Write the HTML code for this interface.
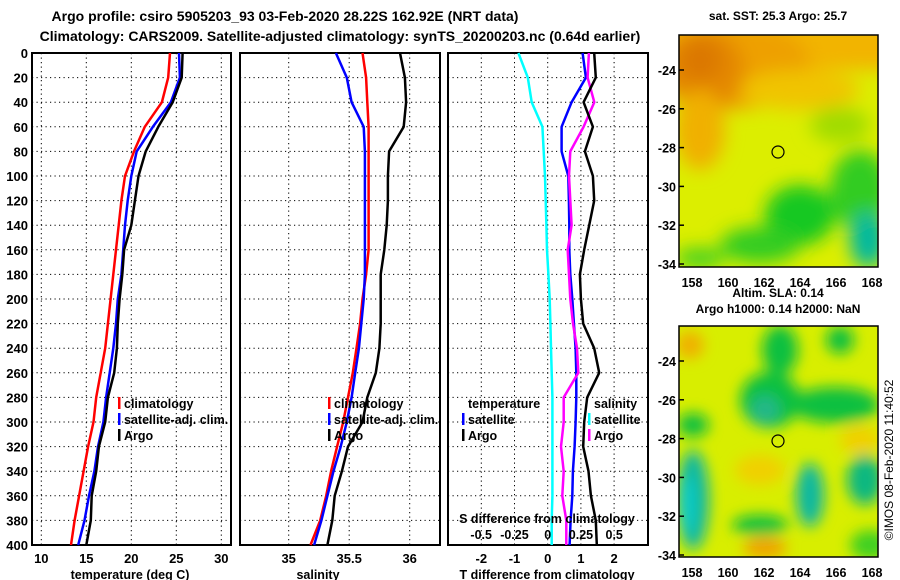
<!DOCTYPE html>
<html><head><meta charset="utf-8"><style>
html,body{margin:0;padding:0;background:#fff;}
svg{display:block;font-family:"Liberation Sans",sans-serif;font-weight:bold;}
</style></head><body>
<svg id="c" width="900" height="580" viewBox="0 0 900 580">
<defs>
<filter id="bl" x="-50%" y="-50%" width="200%" height="200%"><feGaussianBlur stdDeviation="9"/></filter>
<filter id="bl2" x="-50%" y="-50%" width="200%" height="200%"><feGaussianBlur stdDeviation="7"/></filter>
<clipPath id="m1"><rect x="679" y="35" width="199" height="232"/></clipPath>
<clipPath id="m2"><rect x="679" y="326" width="199" height="231"/></clipPath>
</defs>
<text x="285" y="21" font-size="14" text-anchor="middle">Argo profile: csiro 5905203_93 03-Feb-2020 28.22S 162.92E (NRT data)</text>
<text x="340" y="41" font-size="14" text-anchor="middle">Climatology: CARS2009. Satellite-adjusted climatology: synTS_20200203.nc (0.64d earlier)</text>

<g id="maps">
<text x="778" y="20" font-size="12" text-anchor="middle">sat. SST: 25.3 Argo: 25.7</text>
<g clip-path="url(#m1)">
<rect x="679" y="35" width="199" height="232" fill="#dcee00"/>
<g filter="url(#bl)">
<rect x="660" y="20" width="240" height="50" fill="#f2b400"/>
<ellipse cx="730" cy="65" rx="80" ry="45" fill="#eea000"/>
<ellipse cx="705" cy="70" rx="40" ry="40" fill="#e48800"/>
<ellipse cx="700" cy="60" rx="22" ry="22" fill="#dc7800"/>
<ellipse cx="700" cy="130" rx="25" ry="40" fill="#f0b000"/>
<ellipse cx="800" cy="90" rx="60" ry="20" fill="#f0c400"/>
<ellipse cx="840" cy="125" rx="30" ry="18" fill="#a0dc00"/>
<ellipse cx="860" cy="190" rx="30" ry="40" fill="#30cc20"/>
<ellipse cx="800" cy="215" rx="35" ry="30" fill="#18c820"/>
<ellipse cx="760" cy="245" rx="40" ry="18" fill="#30cc20"/>
<ellipse cx="700" cy="258" rx="25" ry="10" fill="#40d020"/>
<ellipse cx="868" cy="240" rx="18" ry="28" fill="#00b8a0"/>
</g>
<circle cx="778" cy="152" r="6" fill="none" stroke="#000" stroke-width="1.2"/>
</g>
<rect x="679" y="35" width="199" height="232" fill="none" stroke="#000" stroke-width="1.5"/>
<text x="778" y="297" font-size="12" text-anchor="middle">Altim. SLA: 0.14</text>
<text x="778" y="313" font-size="12" text-anchor="middle">Argo h1000: 0.14 h2000: NaN</text>
<g clip-path="url(#m2)">
<rect x="679" y="326" width="199" height="231" fill="#d8ee00"/>
<g filter="url(#bl2)">
<ellipse cx="690" cy="345" rx="14" ry="14" fill="#f0b000"/>
<ellipse cx="780" cy="350" rx="18" ry="25" fill="#10c040"/>
<ellipse cx="840" cy="340" rx="14" ry="14" fill="#10c040"/>
<ellipse cx="770" cy="400" rx="30" ry="28" fill="#10c040"/>
<ellipse cx="835" cy="405" rx="45" ry="18" fill="#10c040"/>
<ellipse cx="765" cy="410" rx="15" ry="15" fill="#20b888"/>
<ellipse cx="693" cy="425" rx="16" ry="12" fill="#10c040"/>
<ellipse cx="693" cy="500" rx="16" ry="50" fill="#10b8a0"/>
<ellipse cx="688" cy="505" rx="6" ry="30" fill="#10d0d0"/>
<ellipse cx="760" cy="525" rx="28" ry="10" fill="#10c040"/>
<ellipse cx="810" cy="495" rx="14" ry="32" fill="#10b8a0"/>
<ellipse cx="865" cy="480" rx="18" ry="25" fill="#10b880"/>
<ellipse cx="760" cy="470" rx="25" ry="15" fill="#f0d000"/>
<ellipse cx="765" cy="548" rx="22" ry="10" fill="#f0a000"/>
<ellipse cx="860" cy="440" rx="20" ry="14" fill="#f0d000"/>
<ellipse cx="870" cy="545" rx="20" ry="15" fill="#40d020"/>
</g>
<circle cx="778" cy="441" r="6" fill="none" stroke="#000" stroke-width="1.2"/>
</g>
<rect x="679" y="326" width="199" height="231" fill="none" stroke="#000" stroke-width="1.5"/>
<text transform="translate(893,460) rotate(-90)" font-size="12" font-weight="normal" text-anchor="middle">©IMOS 08-Feb-2020 11:40:52</text>
</g>
<g id="plots"></g>
</svg>
<script>
const depths=[0,20,40,60,80,100,120,140,160,180,200,220,240,260,280,300,320,340,360,380,400];
const tClim=[24.3,24.1,23.4,21.5,20.3,19.3,18.9,18.6,18.3,18.0,17.7,17.4,17.1,16.6,16.1,15.8,15.2,14.7,14.2,13.7,13.3];
const tSat=[25.3,25.4,24.4,22.4,20.6,20.0,19.6,19.3,19.1,18.9,18.5,18.3,18.0,17.6,17.2,16.9,16.3,15.9,15.3,14.8,14.1];
const tArgo=[25.7,25.6,24.6,23.0,21.6,20.8,20.4,20.0,19.2,19.0,18.7,18.5,18.4,18.1,17.4,17.1,16.4,16.1,15.6,15.5,15.0];
const sClim=[35.61,35.64,35.65,35.66,35.66,35.66,35.66,35.66,35.66,35.64,35.61,35.59,35.56,35.53,35.49,35.45,35.40,35.35,35.31,35.26,35.18];
const sSat=[35.39,35.48,35.52,35.62,35.63,35.63,35.63,35.63,35.63,35.63,35.62,35.60,35.58,35.55,35.52,35.48,35.43,35.37,35.32,35.27,35.21];
const sArgo=[35.92,35.96,35.97,35.95,35.83,35.82,35.82,35.81,35.79,35.76,35.76,35.76,35.75,35.72,35.65,35.61,35.49,35.44,35.38,35.36,35.32];
const dTsat=[1.05,1.15,0.72,0.42,0.42,0.62,0.64,0.65,0.65,0.68,0.74,0.79,0.84,0.86,0.86,0.84,0.81,0.76,0.74,0.69,0.66];
const dTargo=[1.40,1.45,1.08,1.36,1.12,1.36,1.40,1.25,1.10,0.97,1.00,1.07,1.40,1.55,1.19,1.10,1.07,1.23,1.30,1.45,1.48];
const dSsat=[-0.22,-0.15,-0.12,-0.04,-0.03,-0.02,-0.015,-0.01,-0.005,0.005,0.015,0.02,0.025,0.03,0.035,0.035,0.035,0.035,0.035,0.03,0.03];
const dSargo=[0.31,0.30,0.35,0.27,0.17,0.16,0.17,0.18,0.15,0.16,0.17,0.19,0.22,0.23,0.12,0.12,0.10,0.12,0.11,0.14,0.14];
const yTicks=[0,20,40,60,80,100,120,140,160,180,200,220,240,260,280,300,320,340,360,380,400];
const tTicks=[10,15,20,25,30];
const sTicks=[35,35.5,36];
const dtTicks=[-2,-1,0,1,2];
const dsTicks=[-0.5,-0.25,0,0.25,0.5];
const dsTickLabels=["-0.5","-0.25","0","0.25","0.5"];
const latTicks=[-24,-26,-28,-30,-32,-34];
const lonTicks=[158,160,162,164,166,168];

const NS='http://www.w3.org/2000/svg';
const G=document.getElementById('plots');
const Y0=53,Y1=545;
const yS=d=>Y0+(d/400)*(Y1-Y0);
function mk(tag,attrs,parent){const e=document.createElementNS(NS,tag);for(const k in attrs)e.setAttribute(k,attrs[k]);(parent||G).appendChild(e);return e;}
function txt(x,y,s,size,anchor){const e=mk('text',{x:x,y:y,'font-size':size,'text-anchor':anchor||'middle'});e.textContent=s;return e;}
const xT=v=>41.3+(v-10)*9;
const xS=v=>288.7+(v-35)*121;
const xDT=v=>547.7+v*33.2;
const xDS=v=>547.7+v*133;
const panels=[{l:32,r:231,ticks:tTicks,f:xT,lab:t=>String(t),title:'temperature (deg C)',name:'temperature-panel',tx:130},
{l:240,r:440,ticks:sTicks,f:xS,lab:t=>String(t),title:'salinity',name:'salinity-panel',tx:318},
{l:448,r:648,ticks:dtTicks,f:xDT,lab:t=>String(t),title:'T difference from climatology',name:'difference-panel',tx:547}];
panels.forEach((p,pi)=>{
  const g=mk('g',{});
  
  
  yTicks.forEach(d=>{if(d>0&&d<400){const ln=mk('line',{x1:p.l,x2:p.r,y1:yS(d),y2:yS(d),stroke:'#000','stroke-width':1,'stroke-dasharray':'1.2,3.3'},g);
    
    }});
  p.ticks.forEach(t=>{const x=p.f(t);const ln=mk('line',{x1:x,x2:x,y1:Y0,y2:Y1,stroke:'#000','stroke-width':1,'stroke-dasharray':'1.2,3.3'},g);
    
    
    const tl=txt(x,563,p.lab(t),13);
    
    });
  const fr=mk('rect',{x:p.l,y:Y0,width:p.r-p.l,height:Y1-Y0,fill:'none',stroke:'#000','stroke-width':2},g);
  
  
  const at=txt(p.tx,579,p.title,12.5);
  
  
});
yTicks.forEach(d=>{const t=txt(28,yS(d)+5,String(d),13,'end');
  
  });
function line(vals,f,color,name,w){
  const pts=depths.map((d,i)=>f(vals[i]).toFixed(1)+','+yS(d).toFixed(1)).join(' ');
  const pl=mk('polyline',{points:pts,fill:'none',stroke:color,'stroke-width':w||2.5,'stroke-linejoin':'round'});
  
  
}
line(tClim,xT,'#f00','temp-climatology-line');
line(tSat,xT,'#00f','temp-satellite-line');
line(tArgo,xT,'#000','temp-argo-line');
line(sClim,xS,'#f00','sal-climatology-line');
line(sSat,xS,'#00f','sal-satellite-line');
line(sArgo,xS,'#000','sal-argo-line');
line(dSsat,xDS,'#0ff','sdiff-satellite-line');
line(dTsat,xDT,'#00f','tdiff-satellite-line');
line(dSargo,xDS,'#f0f','sdiff-argo-line');
line(dTargo,xDT,'#000','tdiff-argo-line');
function legend(x,y,items,name){
  const g=mk('g',{});
  
  
  items.forEach((it,i)=>{
    if(it.c){const b=mk('rect',{x:x,y:y+i*16-11,width:2.5,height:12,fill:it.c},g);
      
      }
    const t=mk('text',{x:x+6,y:y+i*16,'font-size':12.5},g);t.textContent=it.t;
    
    
  });
}
legend(118,408,[{c:'#f00',t:'climatology'},{c:'#00f',t:'satellite-adj. clim.'},{c:'#000',t:'Argo'}],'temperature-legend');
legend(328,408,[{c:'#f00',t:'climatology'},{c:'#00f',t:'satellite-adj. clim.'},{c:'#000',t:'Argo'}],'salinity-legend');
legend(462,408,[{t:'temperature'},{c:'#00f',t:'satellite'},{c:'#000',t:'Argo'}],'tdiff-legend');
legend(588,408,[{t:'salinity'},{c:'#0ff',t:'satellite'},{c:'#f0f',t:'Argo'}],'sdiff-legend');
const st=txt(547,523,'S difference from climatology',12.5);


dsTicks.forEach((v,i)=>{const t=txt(xDS(v),539,dsTickLabels[i],12.5);
  
  });
// map axes
const latY=v=>70+(-24-v)*19.4;
const lonX=v=>692+(v-158)*18;
[0,291].forEach((off,mi)=>{
  latTicks.forEach(v=>{const t=txt(676,latY(v)+off+5,String(v),12.5,'end');
    
    
    const tk=mk('line',{x1:679,x2:684,y1:latY(v)+off,y2:latY(v)+off,stroke:'#000','stroke-width':1.5});
    
    });
  lonTicks.forEach(v=>{const t=txt(lonX(v),mi?577:287,String(v),12.5);
    
    });
});
</script>
</body></html>
